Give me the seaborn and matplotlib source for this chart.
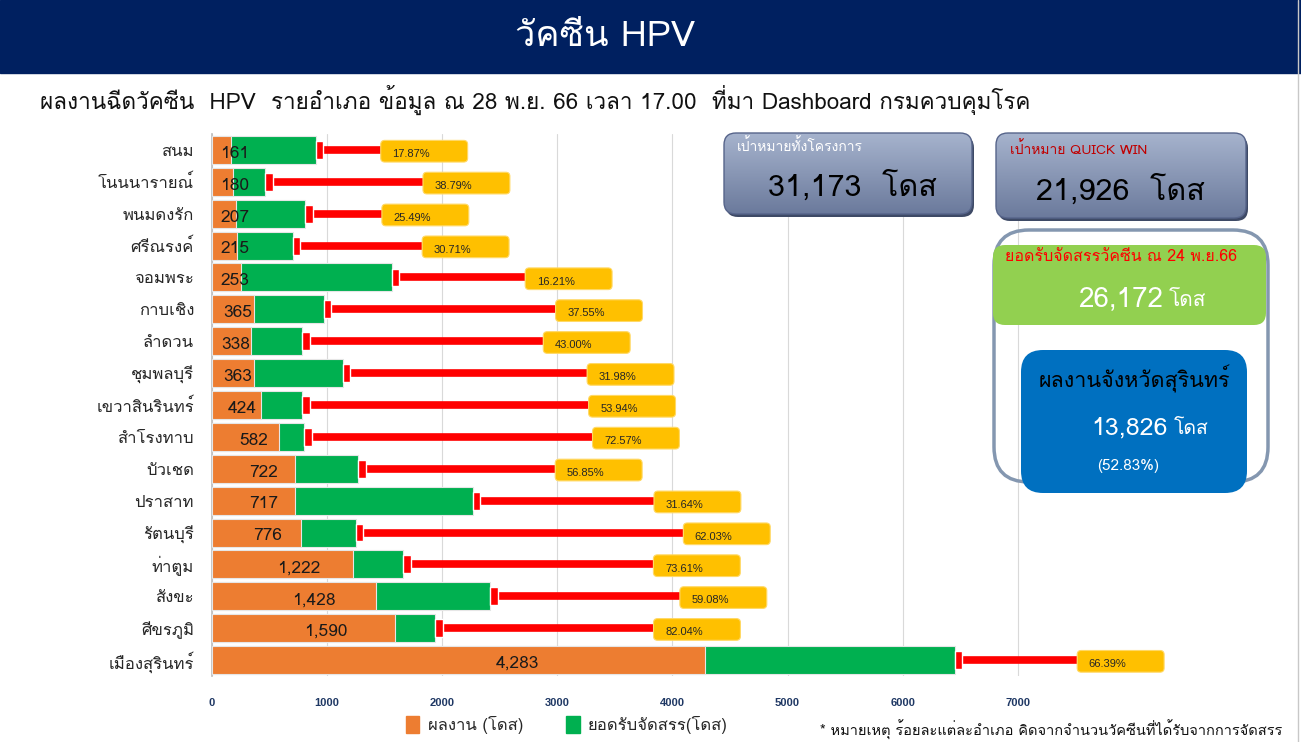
import numpy as np
import pandas as pd
import matplotlib
matplotlib.use('Agg')
import matplotlib.pyplot as plt
import seaborn as sns
from matplotlib import font_manager
from matplotlib.patches import FancyBboxPatch, Patch, Rectangle
from matplotlib.colors import LinearSegmentedColormap
from fontTools.ttLib import TTFont

# DATA

districts = ['สนม', 'โนนนารายณ์', 'พนมดงรัก', 'ศรีณรงค์', 'จอมพระ', 'กาบเชิง', 'ลำดวน',
             'ชุมพลบุรี', 'เขวาสินรินทร์', 'สำโรงทาบ', 'บัวเชด', 'ปราสาท', 'รัตนบุรี',
             'ท่าตูม', 'สังขะ', 'ศีขรภูมิ', 'เมืองสุรินทร์']
done = [161, 180, 207, 215, 253, 365, 338, 363, 424, 582, 722, 717, 776, 1222, 1428, 1590, 4283]
allocated = [901, 464, 812, 700, 1561, 972, 786, 1135, 786, 802, 1270, 2266, 1251, 1660, 2417, 1938, 6451]
pct_labels = ['17.87%', '38.79%', '25.49%', '30.71%', '16.21%', '37.55%', '43.00%', '31.98%',
              '53.94%', '72.57%', '56.85%', '31.64%', '62.03%', '73.61%', '59.08%', '82.04%', '66.39%']
# where the red leader line ends (x value of the yellow label box)
label_end = [1466, 1833, 1476, 1826, 2721, 2985, 2878, 3259, 3272, 3306, 2982, 3840, 4095,
             3835, 4065, 3836, 7517]
x_ticks = [0, 1000, 2000, 3000, 4000, 5000, 6000, 7000]

# FIND A FONT WITH THAI GLYPHS

thai = []
for fe in font_manager.fontManager.ttflist:
    if fe.name in thai:
        continue
    try:
        f = TTFont(fe.fname, fontNumber=0, lazy=True)
        if 0x0E01 in f.getBestCmap():
            thai.append(fe.name)
    except Exception:
        pass
print("thai fonts:", thai)

sns.set_theme(style='white')
plt.rcParams['font.family'] = thai[:1] + ['DejaVu Sans']

# MAIN CHART

fig = plt.figure(figsize=(13.01, 7.42), dpi=100)
ax = fig.add_axes([212 / 1301, 1 - 676 / 742, 920.8 / 1301, 542 / 742])

df = pd.DataFrame({'district': districts, 'done': done, 'allocated': allocated})
sns.barplot(data=df, x='allocated', y='district', orient='h', color='#00B050', saturation=1,
            width=0.88, edgecolor='#E6E6E6', linewidth=0.8, ax=ax, zorder=2)
sns.barplot(data=df, x='done', y='district', orient='h', color='#ED7D31', saturation=1,
            width=0.88, edgecolor='#E6E6E6', linewidth=0.8, ax=ax, zorder=3)

ypos = np.arange(len(districts))
ax.hlines(ypos, allocated, label_end, color='red', lw=5.5, zorder=4)
ax.barh(ypos, 65, left=allocated, height=0.56, color='red', zorder=4)

for y, x0, txt in zip(ypos, label_end, pct_labels):
    box = FancyBboxPatch((x0, y - 0.3), 755, 0.68, boxstyle='round,pad=0,rounding_size=35',
                         mutation_aspect=0.0036, fc='#FFC000', ec='#FFD966', lw=0.8,
                         zorder=5, clip_on=False)
    ax.add_patch(box)
    ax.text(x0 + 100, y + 0.13, txt, fontsize=8, va='center', ha='left',
            family='Liberation Sans', zorder=6, clip_on=False)

for y, v in zip(ypos, done):
    ax.text(max(200, 0.62 * v), y + 0.12, f'{v:,}', ha='center', va='center',
            fontsize=12.5, color='#1a1a1a', zorder=6)

ax.set_xlim(0, 8000)
ax.set_ylim(len(districts) - 0.5, -0.5)
ax.set_xticks(x_ticks)
ax.set_xticklabels([str(t) for t in x_ticks], fontsize=8, fontweight='bold',
                   color='#1F3864', family='Liberation Sans')
ax.tick_params(axis='x', length=0, pad=16)
ax.tick_params(axis='y', length=0, pad=13, labelsize=12, labelcolor='#262626')
ax.set_xlabel('')
ax.set_ylabel('')
ax.grid(axis='x', color='#D9D9D9', lw=0.8)
ax.set_axisbelow(True)
for s in ['top', 'right', 'bottom']:
    ax.spines[s].set_visible(False)
ax.spines['left'].set_color('#BFBFBF')

# LEGEND

handles = [Patch(color='#ED7D31'), Patch(color='#00B050')]
fig.legend(handles, ['ผลงาน (โดส)', 'ยอดรับจัดสรร(โดส)'], loc='center left',
           bbox_to_anchor=(391 / 1301, 1 - 725 / 742), ncol=2, frameon=False, fontsize=12,
           handlelength=0.8, handleheight=1.2, handletextpad=0.5, columnspacing=2.6)

# OVERLAY: HEADER AND SIDE PANELS (pixel coordinates)

ov = fig.add_axes([0, 0, 1, 1])
ov.patch.set_visible(False)
ov.axis('off')

ov.add_patch(Rectangle((0, 0), 1301, 73, color='#002060'))
ov.text(605, 37, 'วัคซีน HPV', color='white', fontsize=26, ha='center', va='center')
ov.text(40, 100, 'ผลงานฉีดวัคซีน  HPV  รายอำเภอ ข้อมูล ณ 28 พ.ย. 66 เวลา 17.00  ที่มา Dashboard กรมควบคุมโรค',
        fontsize=16.2, va='center', color='#111111')


def panel(x, y, w, h, fc, ec='none', lw=0, r=12, z=3):
    p = FancyBboxPatch((x, y), w, h, boxstyle=f'round,pad=0,rounding_size={r}',
                       fc=fc, ec=ec, lw=lw, zorder=z)
    ov.add_patch(p)
    return p


slate = LinearSegmentedColormap.from_list('slate', ['#A6B3CD', '#6B7A9C'])
grad = np.linspace(0, 1, 100).reshape(-1, 1)
for (x, y, w, h) in [(724, 133, 248, 81), (996, 133, 250, 85)]:
    panel(x + 2, y + 3, w, h, '#3E4A66', r=12, z=2)
    p = panel(x, y, w, h, 'none', ec='#56648A', lw=1, r=12, z=4)
    im = ov.imshow(grad, extent=(x, x + w, y + h, y), cmap=slate, aspect='auto', zorder=3)
    im.set_clip_path(p)

ov.text(737, 146, 'เป้าหมายทั้งโครงการ', color='white', fontsize=10, va='center', zorder=5)
ov.text(852, 186, '31,173  โดส', color='black', fontsize=22, ha='center', va='center', zorder=5)
ov.text(1010, 149, 'เป้าหมาย QUICK WIN', color='#C00000', fontsize=10, va='center', zorder=5)
ov.text(1120, 190, '21,926  โดส', color='black', fontsize=22, ha='center', va='center', zorder=5)

panel(994, 230, 274, 252, 'none', ec='#8497B0', lw=2.5, r=35, z=3)
panel(993, 245, 273, 80, '#92D050', r=12, z=4)
ov.text(1005, 257, 'ยอดรับจัดสรรวัคซีน ณ 24 พ.ย.66', color='#FF0000', fontsize=11.5,
        va='center', zorder=5)
ov.text(1163, 300, '26,172', color='white', fontsize=20, ha='right', va='center', zorder=5)
ov.text(1169, 301, 'โดส', color='white', fontsize=15, ha='left', va='center', zorder=5)

panel(1021, 350, 226, 143, '#0070C0', r=22, z=4)
ov.text(1039, 379, 'ผลงานจังหวัดสุรินทร์', color='black', fontsize=15.5, va='center', zorder=5)
ov.text(1168, 428, '13,826', color='white', fontsize=18, ha='right', va='center', zorder=5)
ov.text(1174, 429, 'โดส', color='white', fontsize=14, ha='left', va='center', zorder=5)
ov.text(1128, 466, '(52.83%)', color='white', fontsize=11, ha='center', va='center', zorder=5)

ov.text(820, 730, '* หมายเหตุ ร้อยละแต่ละอำเภอ คิดจากจำนวนวัคซีนที่ได้รับจากการจัดสรร',
        fontsize=10.5, va='center', color='#111111')
ov.plot([1298, 1298], [0, 742], color='#C8C8C8', lw=1)

ov.set_xlim(0, 1301)
ov.set_ylim(742, 0)

plt.savefig('out.png', dpi=100)
